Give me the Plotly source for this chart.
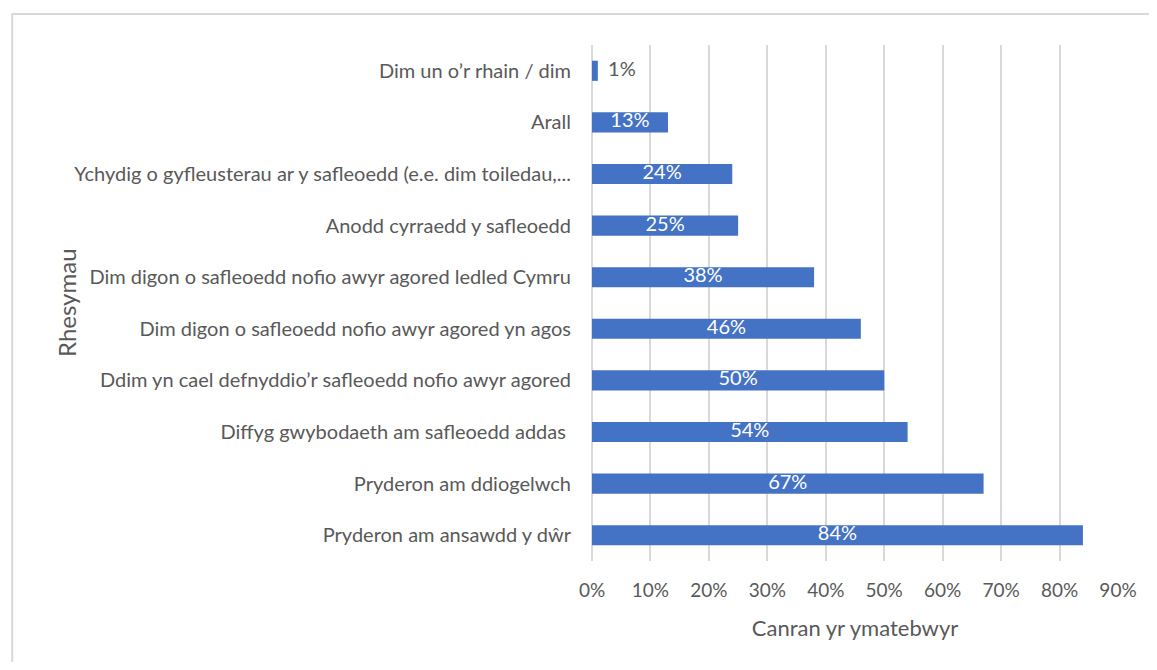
import plotly.graph_objects as go

categories = [
    "Dim un o’r rhain / dim",
    "Arall",
    "Ychydig o gyfleusterau ar y safleoedd (e.e. dim toiledau,...",
    "Anodd cyrraedd y safleoedd",
    "Dim digon o safleoedd nofio awyr agored ledled Cymru",
    "Dim digon o safleoedd nofio awyr agored yn agos",
    "Ddim yn cael defnyddio’r safleoedd nofio awyr agored",
    "Diffyg gwybodaeth am safleoedd addas ",
    "Pryderon am ddiogelwch",
    "Pryderon am ansawdd y dŵr",
]
values = [1, 13, 24, 25, 38, 46, 50, 54, 67, 84]
tick_vals = [0, 10, 20, 30, 40, 50, 60, 70, 80, 90]
tick_text = [f"{v}%" for v in tick_vals]
x_title = "Canran yr ymatebwyr"
y_title = "Rhesymau"

FONT = "Lato"
GRAY = "#595959"
BLUE = "#4472C4"

# page has an 8px body margin; compensate
OFF = 8
W, H = 1157 - 2 * OFF, 670 - 2 * OFF
L = 592 - OFF
R = W - (1120 - OFF)
T = 45 - OFF
B = H - (561 - OFF)
pw, ph = W - L - R, H - T - B

fig = go.Figure()
fig.add_trace(go.Bar(
    x=values, y=categories, orientation="h",
    marker=dict(color=BLUE, line=dict(width=0)),
    width=0.39, hoverinfo="x+y",
))

inside_x = [v / 2 for v in values if v > 5]
inside_y = [c for c, v in zip(categories, values) if v > 5]
inside_t = [f"{v}%" for v in values if v > 5]
fig.add_trace(go.Scatter(
    x=inside_x, y=inside_y, text=inside_t, mode="text",
    textposition="middle center",
    textfont=dict(family=FONT, size=20, color="white"),
    hoverinfo="skip",
))
out_x = [v for v in values if v <= 5]
out_y = [c for c, v in zip(categories, values) if v <= 5]
out_t = [f"  {v}%" for v in values if v <= 5]
fig.add_trace(go.Scatter(
    x=out_x, y=out_y, text=out_t, mode="text",
    textposition="middle right",
    textfont=dict(family=FONT, size=20, color=GRAY),
    hoverinfo="skip",
))

# chart border (top and left visible)
bx = (10 - OFF - L) / pw
by = 1 + (T - (14 - OFF)) / ph
fig.add_shape(type="path", xref="paper", yref="paper",
              path=f"M {bx} -0.5 L {bx} {by} L 1.5 {by}",
              line=dict(color="#D9D9D9", width=2))

fig.update_layout(
    width=W, height=H,
    margin=dict(l=L, r=R, t=T, b=B),
    paper_bgcolor="white", plot_bgcolor="white",
    showlegend=False,
    font=dict(family=FONT, color=GRAY, size=18),
)
fig.update_xaxes(
    range=[0, 90], tickvals=tick_vals, ticktext=tick_text,
    showgrid=True, gridcolor="#D9D9D9", gridwidth=2,
    zeroline=True, zerolinecolor="#D9D9D9", zerolinewidth=2,
    showline=False, ticks="", ticklabelstandoff=16,
    tickfont=dict(family=FONT, size=19, color=GRAY),
    title=dict(text=x_title, font=dict(family=FONT, size=22, color=GRAY), standoff=20),
)
fig.update_yaxes(
    autorange="reversed", showgrid=False, showline=False, ticks="",
    ticklabelstandoff=20,
    tickfont=dict(family=FONT, size=20, color=GRAY),
    title=None,
)
fig.add_annotation(text=y_title, xref="paper", yref="paper",
                   x=(64 - OFF - L) / pw, y=0.5, textangle=-90, showarrow=False,
                   xanchor="center", yanchor="middle",
                   font=dict(family=FONT, size=24, color=GRAY))

fig.write_html("out.html")
